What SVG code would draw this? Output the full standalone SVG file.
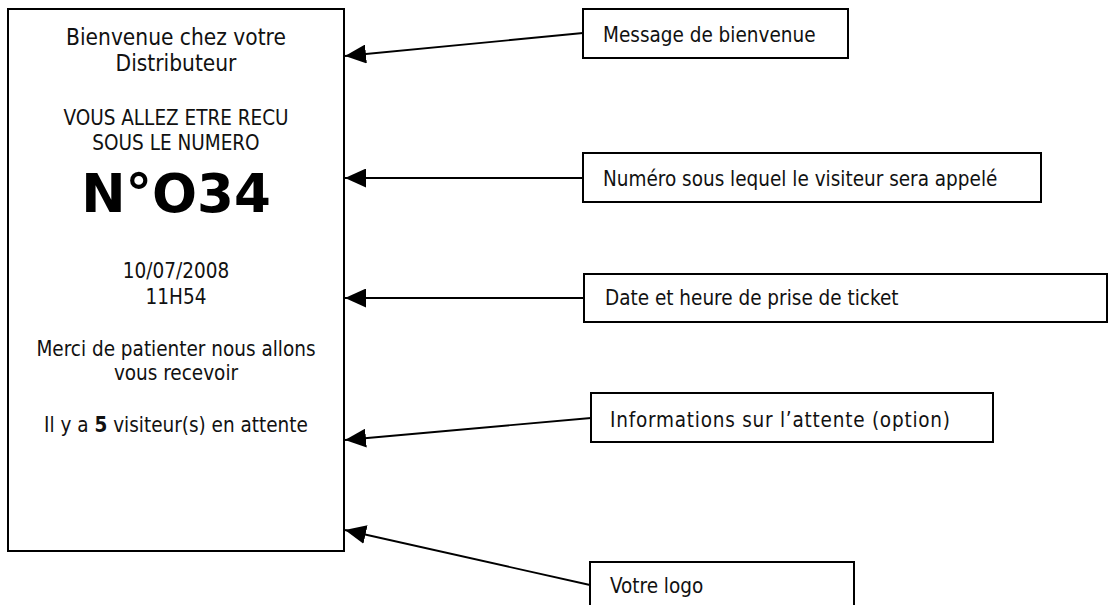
<svg xmlns="http://www.w3.org/2000/svg" width="1109" height="605" viewBox="0 0 1109 605">
<style>
.box{fill:#fff;stroke:#000;stroke-width:2}
.t{font-family:"DejaVu Sans Condensed","DejaVu Sans",sans-serif;font-size:20.5px;fill:#111}
.c{text-anchor:middle}
.big{font-family:"DejaVu Sans","Liberation Sans",sans-serif;font-weight:bold;font-size:53px;fill:#000;text-anchor:middle}
.ln{stroke:#000;stroke-width:1.8;fill:none;marker-end:url(#ah)}
</style>
<defs>
<marker id="ah" markerUnits="userSpaceOnUse" markerWidth="21" markerHeight="19" refX="21" refY="9.5" orient="auto" viewBox="0 0 21 19">
<path d="M0,0 L21,9.5 L0,19 z" fill="#000"/>
</marker>
</defs>
<rect width="1109" height="605" fill="#fff"/>
<g id="ticket">
<rect class="box" x="8" y="9" width="336" height="542"/>
<text class="t c" x="176" y="45" style="font-size:22.5px">Bienvenue chez votre</text>
<text class="t c" x="176" y="71" style="font-size:22.5px">Distributeur</text>
<text class="t c" x="176" y="125">VOUS ALLEZ ETRE RECU</text>
<text class="t c" x="176" y="150">SOUS LE NUMERO</text>
<text class="big" x="176" y="212">N°O34</text>
<text class="t c" x="176" y="278">10/07/2008</text>
<text class="t c" x="176" y="304">11H54</text>
<text class="t c" x="176" y="356">Merci de patienter nous allons</text>
<text class="t c" x="176" y="380">vous recevoir</text>
<text class="t c" x="176" y="432">Il y a <tspan font-weight="bold">5</tspan> visiteur(s) en attente</text>
</g>
<g id="label-bienvenue">
<rect class="box" x="583" y="9" width="265" height="49"/>
<text class="t" x="603" y="42">Message de bienvenue</text>
</g>
<g id="label-numero">
<rect class="box" x="583" y="153" width="458" height="49"/>
<text class="t" x="603" y="186">Numéro sous lequel le visiteur sera appelé</text>
</g>
<g id="label-date">
<rect class="box" x="584" y="274" width="523" height="48"/>
<text class="t" x="605" y="305">Date et heure de prise de ticket</text>
</g>
<g id="label-attente">
<rect class="box" x="591" y="393" width="402" height="49"/>
<text class="t" x="610" y="427" textLength="340" lengthAdjust="spacing">Informations sur l’attente (option)</text>
</g>
<g id="label-logo">
<rect class="box" x="590" y="562" width="264" height="50"/>
<text class="t" x="610" y="593">Votre logo</text>
</g>
<g id="connectors">
<path class="ln" d="M583,33 L345,56"/>
<path class="ln" d="M583,178 L345,178"/>
<path class="ln" d="M584,298 L345,298"/>
<path class="ln" d="M591,418 L345,440"/>
<path class="ln" d="M590,585 L345,530"/>
</g>
</svg>
